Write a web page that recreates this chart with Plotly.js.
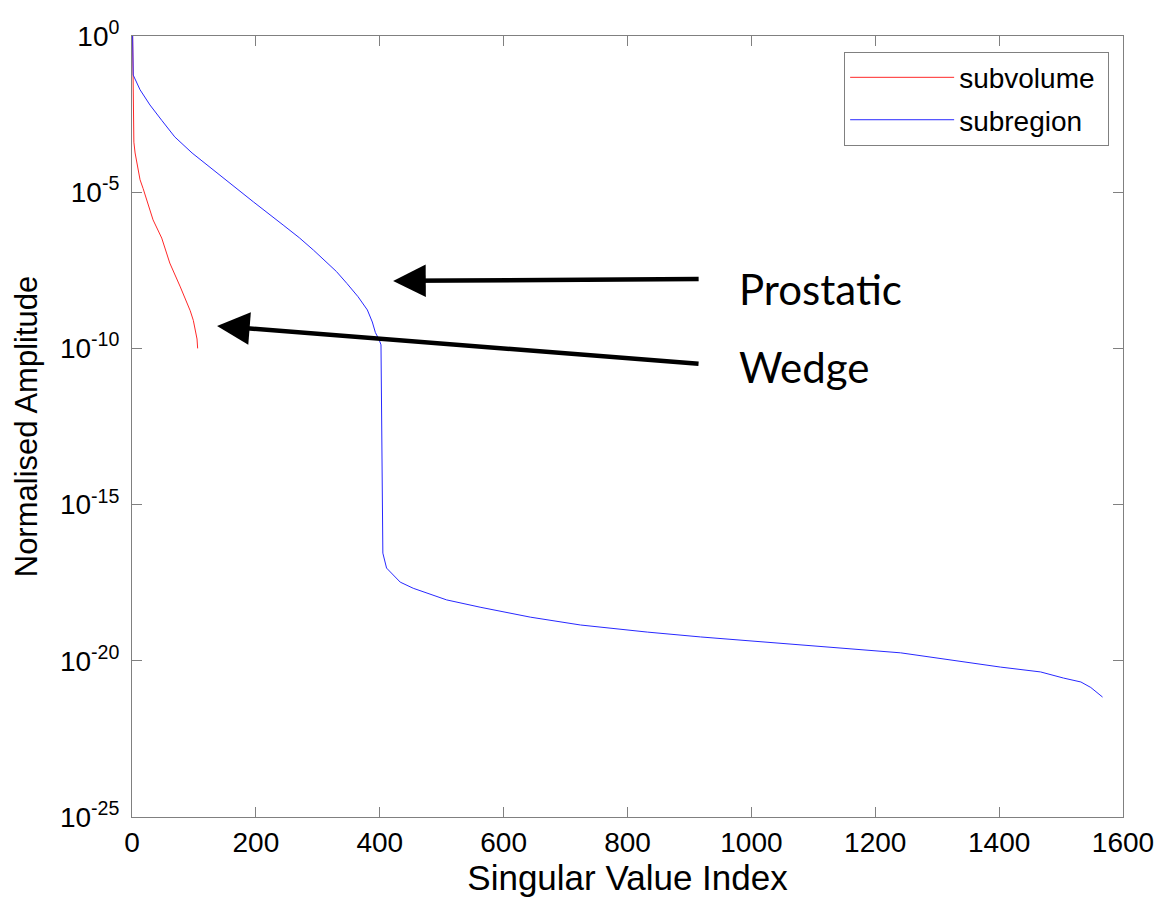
<!DOCTYPE html>
<html>
<head>
<meta charset="utf-8">
<script src="https://cdn.plot.ly/plotly-3.0.1.min.js"></script>
<style>html,body{margin:0;padding:0;background:#fff;}#chart{width:1168px;height:900px;}</style>
</head>
<body>
<div id="chart"></div>
<script>
// Singular value spectra
var subregionIndex = [1, 2, 13, 29, 48, 69, 97, 115, 150, 196, 244, 270, 293, 310, 330, 347, 365, 380, 388, 393, 399, 402, 405, 411, 433, 454, 508, 562, 643, 724, 832, 918, 1060, 1241, 1402, 1467, 1504, 1532, 1548, 1567];
var subregionAmp = [1, 5.6e-2, 1.9e-2, 6.2e-3, 2.0e-3, 5.9e-4, 1.8e-4, 9.3e-5, 2.5e-5, 4.9e-6, 8.9e-7, 3.5e-7, 1.4e-7, 7.0e-8, 2.9e-8, 1.2e-8, 4.5e-9, 1.7e-9, 7.0e-10, 3.2e-10, 1.9e-10, 1.3e-10, 2.8e-17, 9.3e-18, 3.3e-18, 2.1e-18, 8.9e-19, 5.2e-19, 2.5e-19, 1.4e-19, 8.3e-20, 5.8e-20, 3.5e-20, 1.8e-20, 6.3e-21, 4.4e-21, 2.8e-21, 2.1e-21, 1.4e-21, 6.9e-22];

var subvolumeIndex = [1, 2, 3, 5, 10, 13, 18, 26, 34, 48, 61, 78, 94, 99, 105, 106];
var subvolumeAmp = [1, 6.8e-4, 4.0e-4, 1.8e-4, 5.0e-5, 2.5e-5, 1.3e-5, 4.0e-6, 1.3e-6, 3.4e-7, 5.4e-8, 9.3e-9, 1.6e-9, 7.9e-10, 2.0e-10, 1.0e-10];

var xTicks = [0, 200, 400, 600, 800, 1000, 1200, 1400, 1600];
var yTickVals = [1, 1e-5, 1e-10, 1e-15, 1e-20, 1e-25];
var yTickText = ['10<sup>0</sup>', '10<sup>-5</sup>', '10<sup>-10</sup>', '10<sup>-15</sup>', '10<sup>-20</sup>', '10<sup>-25</sup>'];

var seriesNames = ['subvolume', 'subregion'];
var annotationLabels = ['Prostatic', 'Wedge'];

var font = 'Liberation Sans, Arial, sans-serif';
var axisGray = '#808080';

var traces = [
  {x: subvolumeIndex, y: subvolumeAmp, name: seriesNames[0] + '\u00a0', type: 'scatter', mode: 'lines',
   line: {color: 'rgb(255,40,40)', width: 1}, legendgroup: 'a'},
  {x: subregionIndex, y: subregionAmp, name: seriesNames[1] + '\u00a0', type: 'scatter', mode: 'lines',
   line: {color: 'rgb(40,40,255)', width: 1}, legendgroup: 'b'}
];

var layout = {
  width: 1168, height: 900,
  margin: {l: 132, r: 45, t: 36, b: 83},
  paper_bgcolor: '#fff', plot_bgcolor: '#fff',
  font: {family: font, color: '#000', size: 28},
  showlegend: true,
  legend: {
    x: 0.986, y: 0.98, xanchor: 'right', yanchor: 'top',
    bordercolor: axisGray, borderwidth: 1, bgcolor: '#fff',
    font: {family: font, size: 28, color: '#000'},
    tracegroupgap: 3, itemwidth: 104
  },
  xaxis: {
    range: [0, 1600], tickvals: xTicks, ticktext: xTicks.map(String),
    showgrid: false, zeroline: false, showline: true, linecolor: axisGray, linewidth: 1,
    mirror: 'ticks', ticks: 'inside', ticklen: 10, tickcolor: axisGray, tickwidth: 1,
    tickfont: {family: font, size: 28, color: '#000'}, ticklabelstandoff: 0,
    title: {text: 'Singular Value Index', font: {family: font, size: 35, color: '#000'}, standoff: 0}
  },
  yaxis: {
    type: 'log', range: [-25, 0], tickvals: yTickVals, ticktext: yTickText,
    showgrid: false, zeroline: false, showline: true, linecolor: axisGray, linewidth: 1,
    mirror: 'ticks', ticks: 'inside', ticklen: 10, tickcolor: axisGray, tickwidth: 1,
    tickfont: {family: font, size: 28, color: '#000'}, ticklabelstandoff: 6,
    title: {text: 'Normalised Amplitude', font: {family: font, size: 31, color: '#000'}, standoff: 13}
  },
  annotations: [
    {x: 421.6, y: -7.84, xref: 'x', yref: 'y', text: '', showarrow: true,
     ax: 307, ay: -2, axref: 'pixel', ayref: 'pixel',
     arrowhead: 2, arrowsize: 1.45, arrowwidth: 4.5, arrowcolor: '#000', standoff: 0},
    {x: 137.3, y: -9.28, xref: 'x', yref: 'y', text: '', showarrow: true,
     ax: 483, ay: 38, axref: 'pixel', ayref: 'pixel',
     arrowhead: 2, arrowsize: 1.45, arrowwidth: 4.5, arrowcolor: '#000', standoff: 0},
    {x: 976, y: -8.1, xref: 'x', yref: 'y', text: annotationLabels[0], showarrow: false,
     xanchor: 'left', yanchor: 'middle', font: {family: 'Lato, Open Sans, sans-serif', size: 42, color: '#000'}},
    {x: 976, y: -10.6, xref: 'x', yref: 'y', text: annotationLabels[1], showarrow: false,
     xanchor: 'left', yanchor: 'middle', font: {family: 'Lato, Open Sans, sans-serif', size: 42, color: '#000'}}
  ]
};

Plotly.newPlot('chart', traces, layout, {displayModeBar: false, staticPlot: true});
</script>
</body>
</html>
